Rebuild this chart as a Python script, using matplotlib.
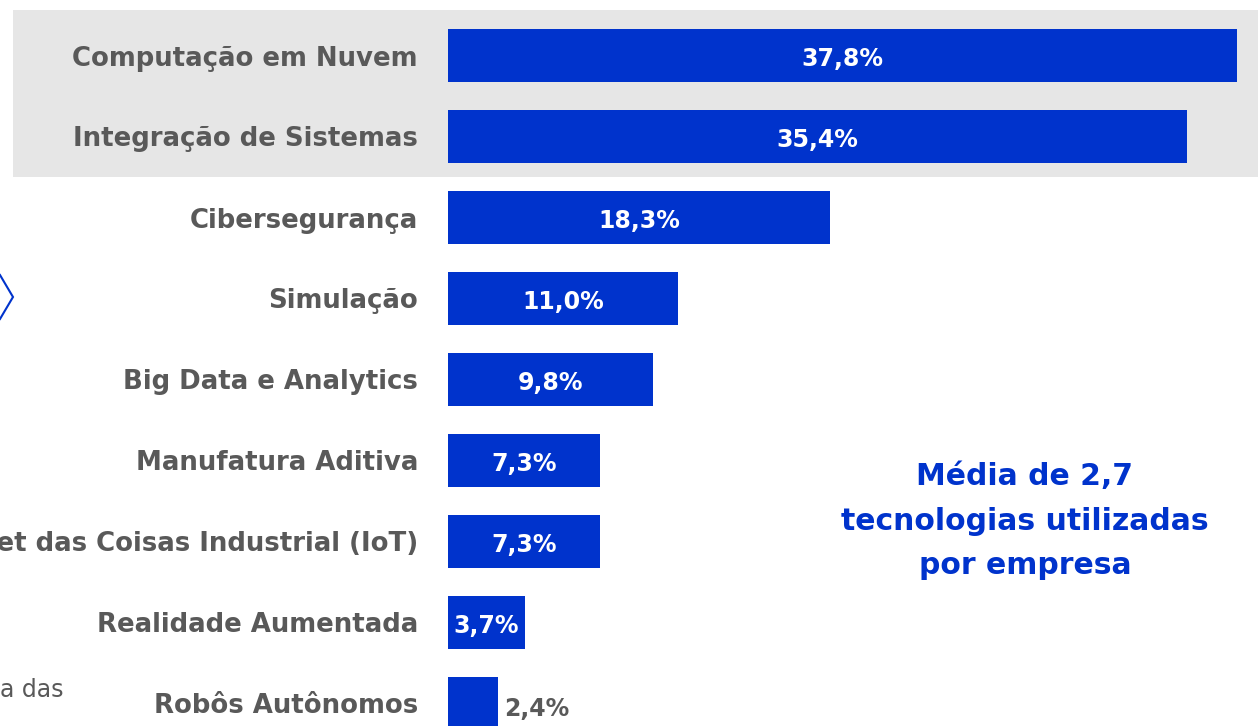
import matplotlib
matplotlib.use("Agg")
import matplotlib.pyplot as plt
from matplotlib.patches import Rectangle

categories = ["Computação em Nuvem", "Integração de Sistemas", "Cibersegurança",
              "Simulação", "Big Data e Analytics", "Manufatura Aditiva",
              "Internet das Coisas Industrial (IoT)", "Realidade Aumentada",
              "Robôs Autônomos"]
values = [37.8, 35.4, 18.3, 11.0, 9.8, 7.3, 7.3, 3.7, 2.4]
value_labels = ["37,8%", "35,4%", "18,3%", "11,0%", "9,8%", "7,3%", "7,3%", "3,7%", "2,4%"]

BLUE = "#0033CC"
GRAY = "#595959"
W, H = 1258, 726

fig = plt.figure(figsize=(W / 100, H / 100), dpi=100)
plt.rcParams['font.family'] = ['DejaVu Sans']

# background axes in pixel coordinates
bg = fig.add_axes([0, 0, 1, 1])
bg.set_xlim(0, W)
bg.set_ylim(H, 0)
bg.axis("off")
bg.add_patch(Rectangle((13, 10), W - 13, 167, facecolor="#E6E6E6", edgecolor="none"))
bg.plot([0, 13, 0], [275, 297, 319], color=BLUE, lw=1.5, solid_joinstyle="miter")
bg.text(0, 690, "a das", color=GRAY, fontsize=17, ha="left", va="center")

# bar axes
x0 = 448
ppu = 20.87
ax = fig.add_axes([x0 / W, 0, (W - x0) / W, 1])
ax.patch.set_alpha(0)
ax.set_xlim(0, (W - x0) / ppu)
ax.set_ylim((H - 55.5) / 81, -55.5 / 81)
ypos = list(range(len(categories)))
ax.barh(ypos, values, height=53 / 81, color=BLUE)
ax.set_yticks(ypos)
ax.set_yticklabels(categories, fontsize=18.7, fontweight="bold", color=GRAY)
ax.tick_params(axis="y", length=0, pad=21.6)
ax.set_xticks([])
for s in ax.spines.values():
    s.set_visible(False)

for y, v, lab in zip(ypos, values, value_labels):
    if v > 3:
        ax.text(v / 2, y + 0.04, lab, ha="center", va="center", color="white",
                fontsize=17, fontweight="bold")
    else:
        ax.text(v + 0.3, y + 0.07, lab, ha="left", va="center", color=GRAY,
                fontsize=17, fontweight="bold")

bg.text(1025, 521, "Média de 2,7\ntecnologias utilizadas\npor empresa", color=BLUE,
        fontsize=21.5, fontweight="bold", ha="center", va="center", linespacing=1.66)

fig.savefig("out.png", dpi=100)
